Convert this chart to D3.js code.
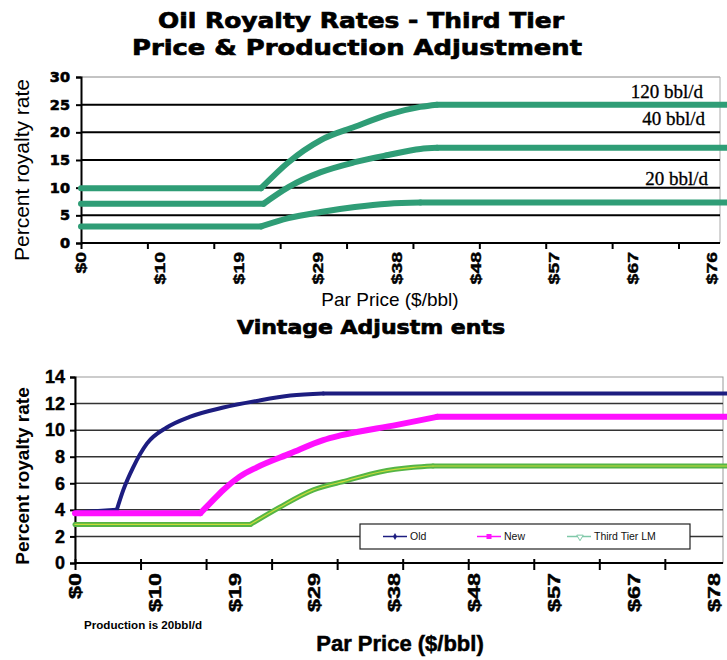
<!DOCTYPE html>
<html><head><meta charset="utf-8">
<script src="https://cdn.jsdelivr.net/npm/d3@7/dist/d3.min.js"></script>
<style>body{margin:0;background:#fff}svg{display:block}</style>
</head><body>
<svg id="c" width="727" height="660"></svg>
<script>
// ---- data (top chart: Third Tier price & production adjustment) ----
const topPrice120 = [0, 21.7, 25.0, 28.9, 33.0, 37.0, 40.9, 42.9, 78];
const topRate120  = [9.9, 9.9, 14.6, 18.6, 21.0, 23.2, 24.6, 25.0, 25.0];
const topPrice40  = [0, 22.0, 25.0, 28.9, 33.0, 37.0, 40.9, 42.9, 78];
const topRate40   = [7.1, 7.1, 10.1, 12.8, 14.6, 15.9, 17.0, 17.2, 17.2];
const topPrice20  = [0, 21.7, 25.0, 28.9, 33.0, 37.0, 40.9, 78];
const topRate20   = [3.0, 3.0, 4.5, 5.6, 6.5, 7.1, 7.3, 7.3];
const topSeriesNames = ["120 bbl/d", "40 bbl/d", "20 bbl/d"];
const topYTicks = [0, 5, 10, 15, 20, 25, 30];
const topXLabels = ["$0","$10","$19","$29","$38","$48","$57","$67","$76"];
const topXLabelStep = 9.5;
const xTickStep = 8;

// ---- data (bottom chart: vintage adjustments, production 20 bbl/d) ----
const oldPrice = [0, 5.1, 5.9, 7.1, 8.8, 11.2, 14.0, 18.1, 22.2, 26.3, 30.3, 80];
const oldRate  = [3.8, 4.0, 5.5, 7.2, 9.0, 10.2, 11.0, 11.7, 12.2, 12.6, 12.75, 12.75];
const newPrice = [0, 15.3, 16.5, 18.1, 20.1, 22.2, 26.3, 30.3, 32.4, 39.3, 44.2, 80];
const newRate  = [3.75, 3.75, 4.5, 5.5, 6.5, 7.2, 8.25, 9.25, 9.6, 10.4, 11.0, 11.0];
const ttPrice  = [0, 21.4, 25.0, 29.1, 33.2, 37.2, 41.3, 43.7, 80];
const ttRate   = [2.9, 2.9, 4.2, 5.5, 6.2, 6.85, 7.2, 7.3, 7.3];
const botSeriesNames = ["Old", "New", "Third Tier LM"];
const botYTicks = [0, 2, 4, 6, 8, 10, 12, 14];
const botXLabels = ["$0","$10","$19","$29","$38","$48","$57","$67","$78"];
const botXLabelStep = 9.75;

const svg = d3.select("#c");
const heavy = "'DejaVu Sans', sans-serif";
const arial = "'Liberation Sans', Arial, sans-serif";

// draw a series: flat start (linear), curved rise (monotone), flat end (linear)
function drawSeries(g, pts, xs, ys, color, width) {
  const lin = d3.line().x(d => xs(d[0])).y(d => ys(d[1]));
  const mono = d3.line().x(d => xs(d[0])).y(d => ys(d[1])).curve(d3.curveMonotoneX);
  const n = pts.length;
  const parts = [[lin, pts.slice(0, 2)], [mono, pts.slice(1, n - 1)], [lin, pts.slice(n - 2)]];
  parts.forEach(([gen, seg]) => {
    g.append("path").datum(seg).attr("d", gen).attr("fill", "none")
      .attr("stroke", color).attr("stroke-width", width)
      .attr("stroke-linejoin", "round").attr("stroke-linecap", "round");
  });
}

// ---------------- TOP CHART ----------------
const tX = d3.scaleLinear().domain([0, 77]).range([81, 720]);
const tY = d3.scaleLinear().domain([0, 30]).range([243, 77]);

svg.append("text").attr("x", 361).attr("y", 28).attr("text-anchor", "middle")
  .attr("font-family", heavy).attr("font-weight", "bold").attr("font-size", 22)
  .attr("textLength", 406).attr("lengthAdjust", "spacingAndGlyphs")
  .attr("stroke", "#000").attr("stroke-width", 0.7)
  .text("Oil Royalty Rates - Third Tier");
svg.append("text").attr("x", 357).attr("y", 55).attr("text-anchor", "middle")
  .attr("font-family", heavy).attr("font-weight", "bold").attr("font-size", 22)
  .attr("textLength", 450).attr("lengthAdjust", "spacingAndGlyphs")
  .attr("stroke", "#000").attr("stroke-width", 0.7)
  .text("Price & Production Adjustment");

const tg = svg.append("g");
tg.append("line").attr("x1", tX(0)).attr("x2", tX(77)).attr("y1", tY(30)).attr("y2", tY(30))
  .attr("stroke", "#888").attr("stroke-width", 1);
tg.append("line").attr("x1", tX(77)).attr("x2", tX(77)).attr("y1", tY(30)).attr("y2", tY(0))
  .attr("stroke", "#aaa").attr("stroke-width", 1);
tg.selectAll("line.g").data(topYTicks.filter(d => d > 0 && d < 30)).join("line")
  .attr("x1", tX(0)).attr("x2", tX(77)).attr("y1", d => tY(d)).attr("y2", d => tY(d))
  .attr("stroke", "#000").attr("stroke-width", 2);

const tYAxis = tg.append("g").attr("transform", `translate(${tX(0)},0)`)
  .call(d3.axisLeft(tY).tickValues(topYTicks).tickSize(5).tickPadding(6));
tYAxis.select(".domain").attr("stroke-width", 2);
tYAxis.selectAll(".tick line").attr("stroke-width", 2);
tYAxis.selectAll("text").attr("font-family", heavy).attr("font-weight", "bold")
  .attr("font-size", 14.5).attr("stroke", "#000").attr("stroke-width", 0.6);

const tXAxis = tg.append("g").attr("transform", `translate(0,${tY(0)})`)
  .call(d3.axisBottom(tX).tickValues(d3.range(0, 73, xTickStep)).tickSize(6).tickFormat(""));
tXAxis.select(".domain").attr("stroke-width", 2).attr("d", `M${tX(0)},0H${tX(77)}`);
tXAxis.selectAll(".tick line").attr("stroke-width", 2);
tg.selectAll("text.xl").data(topXLabels).join("text").attr("class", "xl")
  .attr("transform", (d, i) => `translate(${tX(i * topXLabelStep)},${tY(0) + 9}) rotate(-90)`)
  .attr("dy", "0.36em").attr("text-anchor", "end")
  .attr("font-family", arial).attr("font-weight", "bold").attr("font-size", 15)
  .attr("textLength", d => d.length * 10.8).attr("lengthAdjust", "spacingAndGlyphs")
  .attr("stroke", "#000").attr("stroke-width", 0.4)
  .text(d => d);

svg.append("text").attr("transform", "translate(29,170) rotate(-90)").attr("text-anchor", "middle")
  .attr("font-family", arial).attr("font-size", 21).text("Percent royalty rate");
svg.append("text").attr("x", 390).attr("y", 306).attr("text-anchor", "middle")
  .attr("font-family", arial).attr("font-size", 19).text("Par Price ($/bbl)");

const topGreen = "#2f9d76";
[[topPrice120, topRate120], [topPrice40, topRate40], [topPrice20, topRate20]].forEach(([p, r]) => {
  drawSeries(tg, p.map((v, i) => [v, r[i]]), tX, tY, topGreen, 6);
});
const topLabelPos = [[703, 98], [705, 125], [708, 185]];
topSeriesNames.forEach((n, i) => {
  svg.append("text").attr("x", topLabelPos[i][0]).attr("y", topLabelPos[i][1])
    .attr("text-anchor", "end").attr("font-family", "'Liberation Serif', serif")
    .attr("font-size", 19).attr("stroke", "#000").attr("stroke-width", 0.3).text(n);
});

// ---------------- BOTTOM CHART ----------------
const bX = d3.scaleLinear().domain([0, 79.1]).range([75, 723]);
const bY = d3.scaleLinear().domain([0, 14]).range([563, 377]);

svg.append("text").attr("x", 371).attr("y", 334).attr("text-anchor", "middle")
  .attr("font-family", heavy).attr("font-weight", "bold").attr("font-size", 20)
  .attr("textLength", 268).attr("lengthAdjust", "spacingAndGlyphs")
  .attr("stroke", "#000").attr("stroke-width", 0.7)
  .text("Vintage Adjustm ents");

const bg = svg.append("g");
bg.append("rect").attr("x", bX(0)).attr("y", bY(14)).attr("width", bX(79.1) - bX(0))
  .attr("height", bY(0) - bY(14)).attr("fill", "none").attr("stroke", "#999").attr("stroke-width", 1);
bg.selectAll("line.g").data(botYTicks.filter(d => d > 0 && d < 14)).join("line")
  .attr("x1", bX(0)).attr("x2", bX(79.1)).attr("y1", d => bY(d)).attr("y2", d => bY(d))
  .attr("stroke", "#333").attr("stroke-width", 1.5);

const bYAxis = bg.append("g").attr("transform", `translate(${bX(0)},0)`)
  .call(d3.axisLeft(bY).tickValues(botYTicks).tickSize(5).tickPadding(5));
bYAxis.select(".domain").attr("stroke-width", 2);
bYAxis.selectAll(".tick line").attr("stroke-width", 2);
bYAxis.selectAll("text").attr("font-family", arial).attr("font-weight", "bold")
  .attr("font-size", 18).attr("stroke", "#000").attr("stroke-width", 0.4);

const bXAxis = bg.append("g").attr("transform", `translate(0,${bY(0)})`)
  .call(d3.axisBottom(bX).tickValues(d3.range(0, 73, xTickStep)).tickSize(7).tickFormat(""));
bXAxis.select(".domain").attr("stroke-width", 2).attr("d", `M${bX(0)},0H${bX(79.1)}`);
bXAxis.selectAll(".tick line").attr("stroke-width", 2).attr("y1", -4);
bg.selectAll("text.xl").data(botXLabels).join("text").attr("class", "xl")
  .attr("transform", (d, i) => `translate(${bX(i * botXLabelStep)},${bY(0) + 10}) rotate(-90)`)
  .attr("dy", "0.36em").attr("text-anchor", "end")
  .attr("font-family", arial).attr("font-weight", "bold").attr("font-size", 16)
  .attr("textLength", d => d.length * 13).attr("lengthAdjust", "spacingAndGlyphs")
  .attr("stroke", "#000").attr("stroke-width", 0.4)
  .text(d => d);

svg.append("text").attr("transform", "translate(29,476) rotate(-90)").attr("text-anchor", "middle")
  .attr("font-family", arial).attr("font-weight", "bold").attr("font-size", 19).text("Percent royalty rate");
svg.append("text").attr("x", 400).attr("y", 651).attr("text-anchor", "middle")
  .attr("font-family", arial).attr("font-weight", "bold").attr("font-size", 22)
  .attr("stroke", "#000").attr("stroke-width", 0.5).text("Par Price ($/bbl)");
svg.append("text").attr("x", 84).attr("y", 629)
  .attr("font-family", arial).attr("font-weight", "bold").attr("font-size", 10)
  .attr("textLength", 118).attr("lengthAdjust", "spacingAndGlyphs")
  .text("Production is 20bbl/d");

const botSeries = [
  {p: ttPrice, r: ttRate, color: "#55b545", w: 5, inner: "#c8dc3a"},
  {p: oldPrice, r: oldRate, color: "#1d1d80", w: 4},
  {p: newPrice, r: newRate, color: "#ff10ff", w: 6}
];
botSeries.forEach(s => {
  const d = s.p.map((v, i) => [v, s.r[i]]);
  drawSeries(bg, d, bX, bY, s.color, s.w);
  if (s.inner) drawSeries(bg, d, bX, bY, s.inner, 1.2);
});

// legend
const lg = svg.append("g");
lg.append("rect").attr("x", 360).attr("y", 524).attr("width", 330).attr("height", 25)
  .attr("fill", "#fff").attr("stroke", "#222").attr("stroke-width", 1.2);
const legendColors = ["#1d1d80", "#ff10ff", "#7fc8a8"];
const legendX = [383, 477, 567];
botSeriesNames.forEach((n, i) => {
  const x0 = legendX[i];
  lg.append("line").attr("x1", x0).attr("x2", x0 + 24).attr("y1", 536.5).attr("y2", 536.5)
    .attr("stroke", legendColors[i]).attr("stroke-width", 1.5);
  if (i === 0) lg.append("path").attr("d", d3.symbol(d3.symbolDiamond, 14)).attr("transform", `translate(${x0 + 12},536.5)`).attr("fill", legendColors[i]);
  if (i === 1) lg.append("rect").attr("x", x0 + 9.5).attr("y", 534).attr("width", 5).attr("height", 5).attr("fill", legendColors[i]);
  if (i === 2) lg.append("path").attr("d", d3.symbol(d3.symbolTriangle, 18)).attr("transform", `translate(${x0 + 13},537) rotate(180)`).attr("fill", "#fff").attr("stroke", legendColors[i]);
  lg.append("text").attr("x", x0 + 27).attr("y", 540).attr("font-family", arial)
    .attr("font-size", 10.5).attr("fill", "#111").text(n);
});
</script>
</body></html>
